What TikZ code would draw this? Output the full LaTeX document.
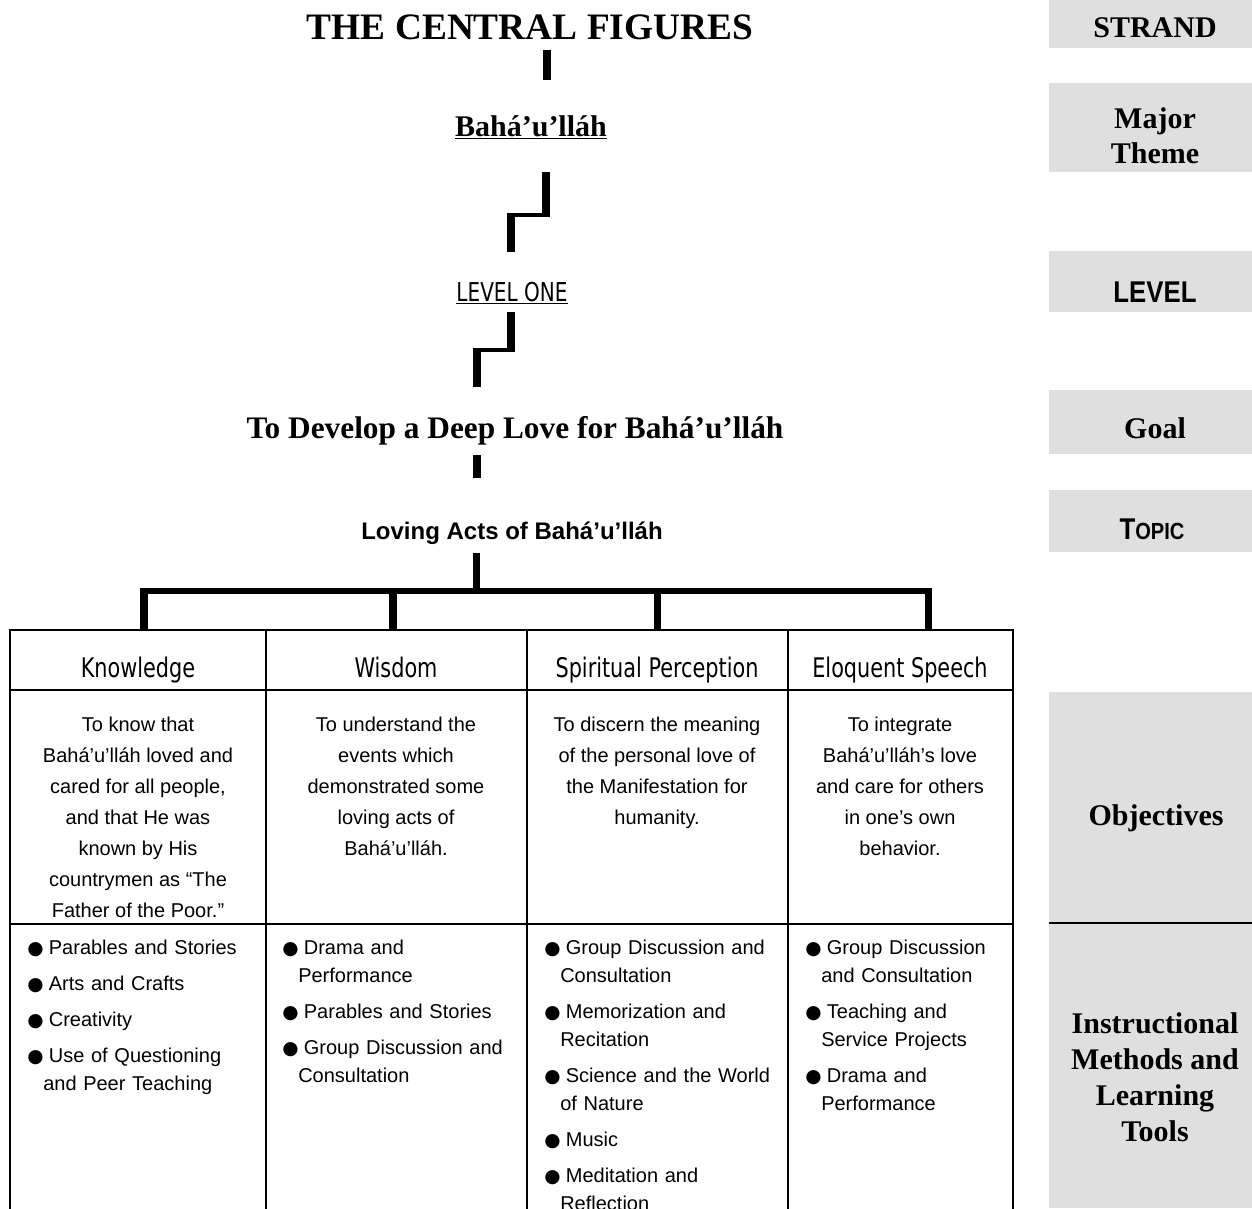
\documentclass[tikz,border=0pt]{standalone}
\usepackage{fontspec}
\setmainfont{Liberation Serif}
\newfontfamily\arialf{Liberation Sans}
\newfontfamily\arialnf[FakeStretch=0.86]{Liberation Sans}
\newfontfamily\verdnf[FakeStretch=0.77]{DejaVu Sans}
\newfontfamily\djvf{DejaVu Sans}
\definecolor{boxgray}{gray}{0.875}
\newcommand\bul{{\djvf\fontsize{14}{14}\selectfont ●}\hspace{4pt}}
\newcommand\firstitm{\hangindent=12pt\hangafter=1\relax\bul\rule{0pt}{15pt}}
\newcommand\itm{\par\hangindent=12pt\hangafter=1\relax\bul}
\newcommand\methset{\setlength{\parskip}{6pt}\setlength{\parindent}{0pt}}
\begin{document}
\begin{tikzpicture}[x=0.75pt,y=-0.75pt,
  vbar/.style={line width=5.6pt,line cap=butt},
  sthin/.style={line width=3pt,line cap=butt},
  hbar/.style={line width=4.5pt,line cap=butt},
  grid/.style={line width=1.9pt},
  serifb/.style={font=\bfseries\fontsize{22.5}{26.25}\selectfont},
  hdr/.style={font=\verdnf\fontsize{20.25}{24}\selectfont,anchor=base,inner sep=0},
  obj/.style={font=\arialf\fontsize{15}{23.25}\selectfont,align=center,anchor=north,inner sep=0},
  meth/.style={font=\arialf\fontsize{15}{21}\selectfont,align=left,text width=190pt,anchor=north west,inner sep=0},
  lbl/.style={serifb,anchor=base,inner sep=0},
]
\useasboundingbox (0,0) rectangle (1252,1208);

% right column grey boxes
\fill[boxgray] (1049,0) rectangle (1252,48);
\fill[boxgray] (1049,83) rectangle (1252,172);
\fill[boxgray] (1049,251) rectangle (1252,312);
\fill[boxgray] (1049,390) rectangle (1252,454);
\fill[boxgray] (1049,490) rectangle (1252,552);
\fill[boxgray] (1049,692) rectangle (1252,1208);
\draw[line width=1.1pt] (1049,923) -- (1252,923);

% right column labels
\node[lbl] (strand) at (1155,37) {STRAND};
\node[serifb,align=center,anchor=north,inner sep=0] (theme) at (1155,98) {\rule{0pt}{22.5pt}Major\\Theme};
\node[font=\arialnf\bfseries\fontsize{22.5}{26}\selectfont,anchor=base,inner sep=0] (levellbl) at (1155,302) {LEVEL};
\node[lbl] (goallbl) at (1155,438) {Goal};
\node[font=\arialnf\bfseries\fontsize{22.5}{26}\selectfont,anchor=base,inner sep=0] (topiclbl) at (1152,539) {T{\fontsize{17.5}{20}\selectfont OPIC}};
\node[lbl] (objlbl) at (1156,825) {Objectives};
\node[serifb,align=center,anchor=north,inner sep=0,font=\bfseries\fontsize{22.5}{27}\selectfont] (instlbl) at (1155,1003) {\rule{0pt}{22.5pt}Instructional\\Methods and\\Learning\\Tools};

% hierarchy texts
\node[font=\bfseries\fontsize{28}{32}\selectfont,anchor=base,inner sep=0] (title) at (530,39) {THE CENTRAL FIGURES};
\node[font=\bfseries\fontsize{22.5}{26}\selectfont,anchor=base,inner sep=0] (bah) at (531,136) {\underline{Bahá’u’lláh}};
\node[font=\verdnf\fontsize{19.5}{22}\selectfont,anchor=base,inner sep=0] (level) at (512,301) {\underline{LEVEL ONE}};
\node[font=\bfseries\fontsize{23.5}{27}\selectfont,anchor=base,inner sep=0] (goal) at (515,438) {To Develop a Deep Love for Bahá’u’lláh};
\node[font=\arialf\bfseries\fontsize{18}{21}\selectfont,anchor=base,inner sep=0] (topic) at (512,539) {Loving Acts of Bahá’u’lláh};

% connector joints
\coordinate (a1) at (547,50);  \coordinate (a2) at (547,80);
\coordinate (b1) at (546,172); \coordinate (b2) at (546,217);
\coordinate (b3) at (549.5,215); \coordinate (b4) at (507,215);
\coordinate (b5) at (511,213); \coordinate (b6) at (511,252);
\coordinate (c1) at (511,312); \coordinate (c2) at (511,351);
\coordinate (c3) at (515,349.5); \coordinate (c4) at (473,349.5);
\coordinate (c5) at (477,348); \coordinate (c6) at (477,387);
\coordinate (d1) at (477,455); \coordinate (d2) at (477,478);
\coordinate (e1) at (476.5,553); \coordinate (e2) at (476.5,591);
\coordinate (h1) at (140,591); \coordinate (h2) at (932,591);

\draw[vbar] (a1) -- (a2);
\draw[vbar] (b1) -- (b2);
\draw[sthin] (b3) -- (b4);
\draw[vbar] (b5) -- (b6);
\draw[vbar] (c1) -- (c2);
\draw[sthin] (c3) -- (c4);
\draw[vbar] (c5) -- (c6);
\draw[vbar] (d1) -- (d2);
\draw[vbar] (e1) -- (e2);
\draw[hbar] (h1) -- (h2);

% table
\coordinate (tl) at (10,630); \coordinate (tr) at (1013,630);
\draw[grid] (10,1215) -- (tl) -- (tr) -- (1013,1215);
\draw[grid] (10,690) -- (1013,690);
\draw[grid] (10,924) -- (1013,924);
\draw[grid] (266,630) -- (266,1215);
\draw[grid] (527,630) -- (527,1215);
\draw[grid] (788,630) -- (788,1215);

% column headers
\node[hdr] (kh) at (138,677) {Knowledge};
\node[hdr] (wh) at (396,677) {Wisdom};
\node[hdr] (sh) at (657,677) {Spiritual Perception};
\node[hdr] (eh) at (900,677) {Eloquent Speech};

% drops to header row
\coordinate (k1) at (144,588);   \coordinate (k2) at (144,630);
\coordinate (w1) at (393,588);   \coordinate (w2) at (393,630);
\coordinate (s1) at (657.5,588); \coordinate (s2) at (657.5,630);
\coordinate (q1) at (928.5,588); \coordinate (q2) at (928.5,630);
\draw[vbar] (k1) -- (k2);
\draw[vbar] (w1) -- (w2);
\draw[vbar] (s1) -- (s2);
\draw[vbar] (q1) -- (q2);

% objectives
\node[obj] (ko) at (138,711) {\rule{0pt}{15pt}To know that\\Bahá’u’lláh loved and\\cared for all people,\\and that He was\\known by His\\countrymen as “The\\Father of the Poor.”};
\node[obj] (wo) at (396,711) {\rule{0pt}{15pt}To understand the\\events which\\demonstrated some\\loving acts of\\Bahá’u’lláh.};
\node[obj] (so) at (657,711) {\rule{0pt}{15pt}To discern the meaning\\of the personal love of\\the Manifestation for\\humanity.};
\node[obj] (eo) at (900,711) {\rule{0pt}{15pt}To integrate\\Bahá’u’lláh’s love\\and care for others\\in one’s own\\behavior.};

% methods
\node[meth] (km) at (27,934) {\methset\firstitm Parables and Stories\itm Arts and Crafts\itm Creativity\itm Use of Questioning\newline and Peer Teaching\par};
\node[meth] (wm) at (282,934) {\methset\firstitm Drama and\newline Performance\itm Parables and Stories\itm Group Discussion and\newline Consultation\par};
\node[meth] (sm) at (544,934) {\methset\firstitm Group Discussion and\newline Consultation\itm Memorization and\newline Recitation\itm Science and the World\newline of Nature\itm Music\itm Meditation and\newline Reflection\par};
\node[meth] (em) at (805,934) {\methset\firstitm Group Discussion\newline and Consultation\itm Teaching and\newline Service Projects\itm Drama and\newline Performance\par};
\end{tikzpicture}
\end{document}
